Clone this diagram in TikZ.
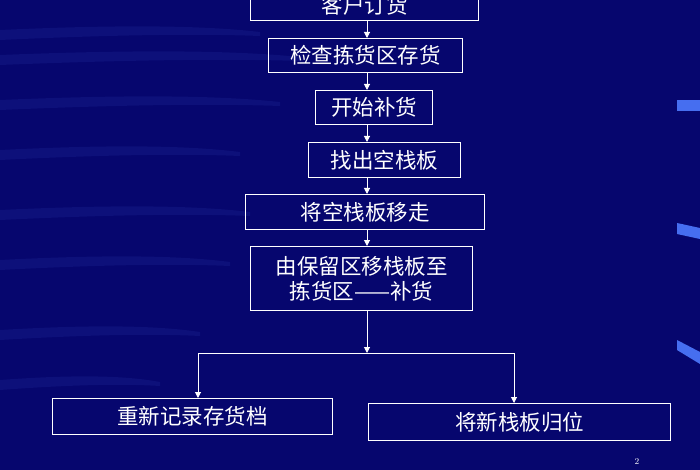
\documentclass[tikz,border=0pt]{standalone}
\usepackage{fontspec}
\newfontfamily\cjk{Noto Sans CJK SC}
\usetikzlibrary{arrows.meta}
\definecolor{bg}{RGB}{6,6,110}
\definecolor{streak}{RGB}{30,40,150}
\definecolor{tab}{RGB}{70,110,240}
\tikzset{
  box/.style={draw=white, line width=1pt, text=white, font=\cjk\fontsize{21.5}{25}\selectfont, align=center, inner sep=0pt, anchor=north west},
  conn/.style={draw=white, line width=1pt, -{Triangle[length=6pt,width=6pt]}},
  plain/.style={draw=white, line width=1pt}
}
\begin{document}
\begin{tikzpicture}[x=1pt,y=-1pt]
\useasboundingbox (0,0) rectangle (700,470);
\fill[bg] (0,0) rectangle (700,470);
% left streaks
\foreach \y/\w in {30/260,55/300,100/280,150/240,210/250,260/230,330/200,380/160}{
  \fill[streak, opacity=0.3] (0,\y) .. controls (\w*0.5,\y-6) and (\w*0.8,\y-4) .. (\w,\y+2) -- (\w,\y+6) .. controls (\w*0.8,\y+4) and (\w*0.5,\y+4) .. (0,\y+10) -- cycle;
}
% right tabs
\fill[tab] (677,100) rectangle (700,111);
\fill[tab] (677,223) -- (700,228) -- (700,239) -- (677,234) -- cycle;
\fill[tab] (677,340) -- (700,352) -- (700,364) -- (677,350) -- cycle;

\node[box, minimum width=228pt, minimum height=30pt] (b1) at (250,-10) {客户订货};
\node[box, minimum width=194pt, minimum height=34pt] (b2) at (268,38) {检查拣货区存货};
\node[box, minimum width=117pt, minimum height=34pt] (b3) at (315,90) {开始补货};
\node[box, minimum width=152pt, minimum height=35pt] (b4) at (308,142) {找出空栈板};
\node[box, minimum width=239pt, minimum height=35pt] (b5) at (245,194) {将空栈板移走};
\node[box, minimum width=222pt, minimum height=64pt] (b6) at (250,246) {由保留区移栈板至\\拣货区——补货};
\node[box, minimum width=280pt, minimum height=36pt] (b7) at (52,398) {重新记录存货档};
\node[box, minimum width=302pt, minimum height=37pt] (b8) at (368,403) {将新栈板归位};
\node[text=white, font=\fontsize{9}{10}\selectfont] (pg) at (637,461) {2};

\draw[conn] (b1.south -| 367,0) -- (b2.north -| 367,0);
\draw[conn] (b2.south -| 367,0) -- (b3.north -| 367,0);
\draw[conn] (b3.south -| 367,0) -- (b4.north -| 367,0);
\draw[conn] (b4.south -| 367,0) -- (b5.north -| 367,0);
\draw[conn] (b5.south -| 367,0) -- (b6.north -| 367,0);
\coordinate (j) at (367,353);
\coordinate (jl) at (198,353);
\coordinate (jr) at (514,353);
\draw[conn] (b6.south -| 367,0) -- (j);
\draw[plain] (jl) -- (jr);
\draw[conn] (jl) -- (b7.north -| jl);
\draw[conn] (jr) -- (b8.north -| jr);
\end{tikzpicture}
\end{document}
